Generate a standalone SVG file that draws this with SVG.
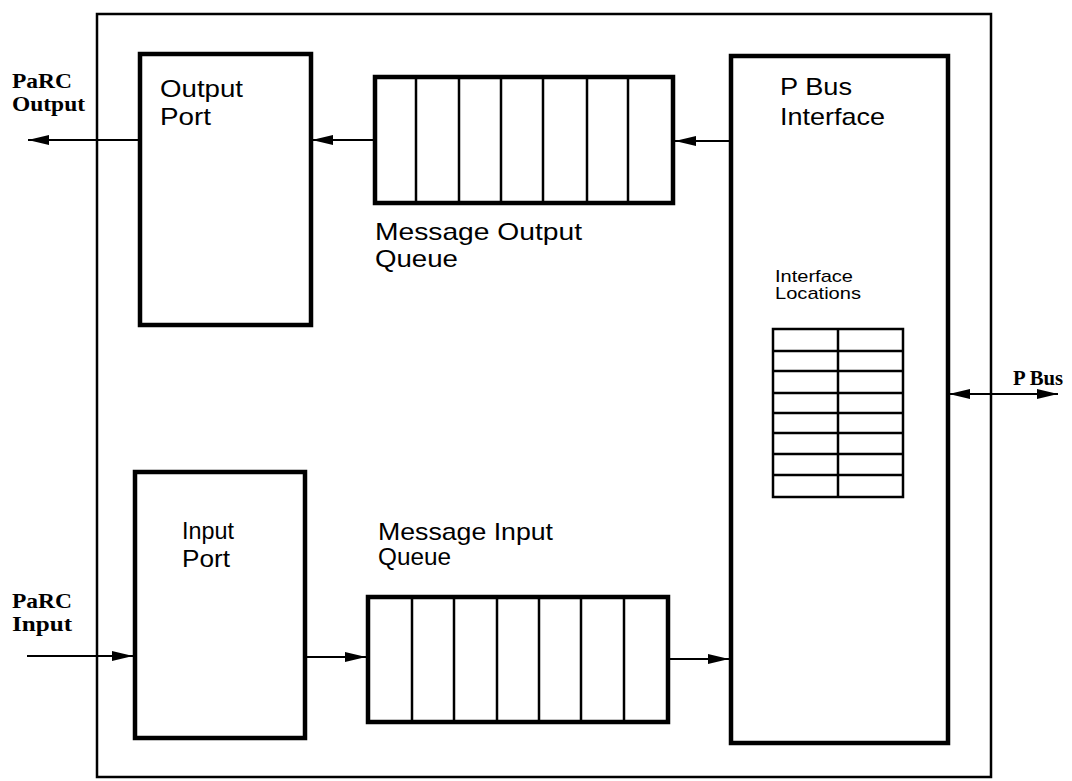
<svg xmlns="http://www.w3.org/2000/svg" width="1072" height="781" viewBox="0 0 1072 781">
<style>
.frame{fill:none;stroke:#000;stroke-width:2.5}
.box{fill:#fff;stroke:#000;stroke-width:4.5}
.div{stroke:#000;stroke-width:2.5}
.tbl{fill:none;stroke:#000;stroke-width:2.5}
.con{stroke:#000;stroke-width:2;fill:none}
.lbl{font-family:"Liberation Sans",Arial,Helvetica,sans-serif;font-size:24px;fill:#000}
.sm{font-family:"Liberation Sans",Arial,Helvetica,sans-serif;font-size:17px;fill:#000}
.ext{font-family:"Liberation Serif","Times New Roman",serif;font-weight:bold;font-size:20px;fill:#000}
</style>
<defs>
<marker id="ah" markerUnits="userSpaceOnUse" markerWidth="22" markerHeight="12" refX="21" refY="6" orient="auto-start-reverse">
<path d="M0,1 L21,6 L0,11 z" fill="#000"/>
</marker>
</defs>
<rect width="1072" height="781" fill="#fff"/>
<g id="frame">
<rect class="frame" x="97" y="14" width="894" height="763"/>
</g>
<g id="output-port">
<rect class="box" x="140" y="54" width="171" height="271"/>
<text class="lbl" x="160" y="97" textLength="83" lengthAdjust="spacingAndGlyphs">Output</text>
<text class="lbl" x="160" y="125" textLength="51" lengthAdjust="spacingAndGlyphs">Port</text>
</g>
<g id="message-output-queue">
<rect class="box" x="375" y="77" width="298" height="126"/>
<line class="div" x1="416" y1="77" x2="416" y2="203"/>
<line class="div" x1="459" y1="77" x2="459" y2="203"/>
<line class="div" x1="501" y1="77" x2="501" y2="203"/>
<line class="div" x1="543" y1="77" x2="543" y2="203"/>
<line class="div" x1="587" y1="77" x2="587" y2="203"/>
<line class="div" x1="628" y1="77" x2="628" y2="203"/>
<text class="lbl" x="375" y="240" textLength="207" lengthAdjust="spacingAndGlyphs">Message Output</text>
<text class="lbl" x="375" y="267" textLength="83" lengthAdjust="spacingAndGlyphs">Queue</text>
</g>
<g id="p-bus-interface">
<rect class="box" x="731" y="56" width="217" height="687"/>
<text class="lbl" x="780" y="95" textLength="72" lengthAdjust="spacingAndGlyphs">P Bus</text>
<text class="lbl" x="780" y="125" textLength="105" lengthAdjust="spacingAndGlyphs">Interface</text>
</g>
<g id="interface-locations">
<text class="sm" x="775" y="282" textLength="78" lengthAdjust="spacingAndGlyphs">Interface</text>
<text class="sm" x="775" y="299" textLength="86" lengthAdjust="spacingAndGlyphs">Locations</text>
<rect class="tbl" x="773" y="329" width="130" height="168"/>
<line class="div" x1="838" y1="329" x2="838" y2="497"/>
<line class="div" x1="773" y1="351" x2="903" y2="351"/>
<line class="div" x1="773" y1="371" x2="903" y2="371"/>
<line class="div" x1="773" y1="393" x2="903" y2="393"/>
<line class="div" x1="773" y1="413" x2="903" y2="413"/>
<line class="div" x1="773" y1="433" x2="903" y2="433"/>
<line class="div" x1="773" y1="454" x2="903" y2="454"/>
<line class="div" x1="773" y1="475" x2="903" y2="475"/>
</g>
<g id="input-port">
<rect class="box" x="135" y="472" width="170" height="266"/>
<text class="lbl" x="182" y="539" textLength="52" lengthAdjust="spacingAndGlyphs">Input</text>
<text class="lbl" x="182" y="567" textLength="48" lengthAdjust="spacingAndGlyphs">Port</text>
</g>
<g id="message-input-queue">
<rect class="box" x="368" y="597" width="300" height="125"/>
<line class="div" x1="412" y1="597" x2="412" y2="722"/>
<line class="div" x1="454" y1="597" x2="454" y2="722"/>
<line class="div" x1="497" y1="597" x2="497" y2="722"/>
<line class="div" x1="539" y1="597" x2="539" y2="722"/>
<line class="div" x1="581" y1="597" x2="581" y2="722"/>
<line class="div" x1="624" y1="597" x2="624" y2="722"/>
<text class="lbl" x="378" y="540" textLength="175" lengthAdjust="spacingAndGlyphs">Message Input</text>
<text class="lbl" x="378" y="565" textLength="73" lengthAdjust="spacingAndGlyphs">Queue</text>
</g>
<g id="external-labels">
<text class="ext" x="12" y="88" textLength="60" lengthAdjust="spacingAndGlyphs">PaRC</text>
<text class="ext" x="12" y="111" textLength="73" lengthAdjust="spacingAndGlyphs">Output</text>
<text class="ext" x="12" y="608" textLength="60" lengthAdjust="spacingAndGlyphs">PaRC</text>
<text class="ext" x="12" y="631" textLength="60" lengthAdjust="spacingAndGlyphs">Input</text>
<text class="ext" x="1013" y="385" textLength="50" lengthAdjust="spacingAndGlyphs">P Bus</text>
</g>
<g id="connectors">
<line class="con" x1="140" y1="140" x2="28" y2="140" marker-end="url(#ah)"/>
<line class="con" x1="375" y1="140" x2="312" y2="140" marker-end="url(#ah)"/>
<line class="con" x1="731" y1="141" x2="675" y2="141" marker-end="url(#ah)"/>
<line class="con" x1="949" y1="394" x2="1058" y2="394" marker-start="url(#ah)" marker-end="url(#ah)"/>
<line class="con" x1="27" y1="656" x2="133" y2="656" marker-end="url(#ah)"/>
<line class="con" x1="305" y1="657" x2="366" y2="657" marker-end="url(#ah)"/>
<line class="con" x1="668" y1="659" x2="729" y2="659" marker-end="url(#ah)"/>
</g>
</svg>
